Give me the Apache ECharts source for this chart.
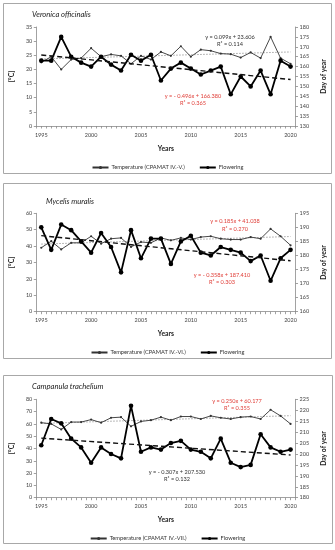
<!DOCTYPE html>
<html>
<head>
<meta charset="utf-8">
<script src="https://cdn.jsdelivr.net/npm/echarts@6/dist/echarts.min.js"></script>
<style>
html,body{margin:0;padding:0;background:#fff;}
#c{width:335px;height:550px;}
</style>
</head>
<body>
<div id="c"></div>
<script>
// ---------- DATA ----------
const years = [1995,1996,1997,1998,1999,2000,2001,2002,2003,2004,2005,2006,2007,2008,2009,2010,2011,2012,2013,2014,2015,2016,2017,2018,2019,2020];
const xTickLabels = [1995,2000,2005,2010,2015,2020];

const titles = ['Veronica officinalis','Mycelis muralis','Campanula trachelium'];
const tempNames = ['Temperature (CPAMAT IV.-V.)','Temperature (CPAMAT IV.-VI.)','Temperature (CPAMAT IV.-VII.)'];
const flowName = 'Flowering';

const tempVeronica = [22.5,24.5,20,23.5,24,27.5,24.5,25.3,24.8,22,24.8,23.5,26.2,24.8,28.2,24.5,27,26.6,25.6,25.4,24.2,26,24,31.5,24,22];
const flowVeronica = [163,163,175,165,162,160,165,161,158,166,163,166,153,159,162,159,156,158,160,146,155,150,158,146,163,160];
const tempMycelis = [39,43,38,42,42,46,41.5,44.5,45,39.5,42.5,42,45,43.5,45,44,45.5,46,44.5,44,44,45.5,44.5,50.5,46,40.5];
const flowMycelis = [190,182,191,189,185,181,188,183,174,189,179,186,186,177,185,187,181,180,183,182,181,178,180,171,179,182];
const tempCampanula = [61,60,55.5,61.5,61.5,63.5,61,65,65.5,58,62,63,65.5,63,66,66,64,66.5,65,64,65.5,66,64,71.5,66.5,60];
const flowCampanula = [204,216,214,207,203,196,203,200,198,222,201,203,202,205,206,202,201,198,207,196,194,195,209,203,201,202];

// trend coefficients [slope, intercept, R2], x = year index starting at 1
const trendTempVeronica = [0.099, 23.606, 0.114];
const trendFlowVeronica = [-0.496, 166.380, 0.365];
const trendTempMycelis = [0.185, 41.038, 0.270];
const trendFlowMycelis = [-0.358, 187.410, 0.303];
const trendTempCampanula = [0.250, 60.177, 0.355];
const trendFlowCampanula = [-0.307, 207.530, 0.132];

// axis ranges [min, max, interval]
const leftAxes = [[0,35,5],[0,60,10],[0,80,10]];
const rightAxes = [[130,180,5],[160,195,5],[180,225,5]];

// ---------- BUILD ----------
const temps = [tempVeronica, tempMycelis, tempCampanula];
const flows = [flowVeronica, flowMycelis, flowCampanula];
const tTrends = [trendTempVeronica, trendTempMycelis, trendTempCampanula];
const fTrends = [trendFlowVeronica, trendFlowMycelis, trendFlowCampanula];

const FONT = 'Lato, "Open Sans", sans-serif';
const RED = '#e0403a';
const layout = [
  {top:27, h:99, box:[3,3,328,170], title:[32,15], xGap:[6,19], legendTop:159.5,
   eqT:[230,37,'#333'], eqF:[193,96,RED]},
  {top:213.3, h:98.4, box:[3,183,328,175], title:[46,201.5], xGap:[5.5,19], legendTop:344.5,
   eqT:[235,221.5,RED], eqF:[222,275,RED]},
  {top:399.3, h:98.4, box:[3,375,329,168], title:[32,387], xGap:[5.5,18.3], legendTop:530.5,
   eqT:[237,401,RED], eqF:[177,472,'#333']}
];

const grid=[], xAxis=[], yAxis=[], series=[], legend=[], graphic=[];
function fmtEq(c){
  const s = c[0] < 0 ? '- ' + Math.abs(c[0]).toFixed(3) : c[0].toFixed(3);
  return 'y = ' + s + 'x + ' + c[1].toFixed(3);
}
function trendData(c){
  const a = years[0], b = years[years.length-1];
  return [[a, c[0]*1 + c[1]], [b, c[0]*years.length + c[1]]];
}
layout.forEach((L,i)=>{
  grid.push({left:35, width:262, top:L.top, height:L.h, containLabel:false});
  xAxis.push({
    gridIndex:i, type:'value', min:1994.5, max:2020.5, interval:0.5,
    axisLine:{show:true, onZero:false, lineStyle:{color:'#8a8a8a', width:0.8}},
    axisTick:{show:true, length:2.5, lineStyle:{color:'#8a8a8a', width:0.8}},
    axisLabel:{fontSize:5.5, color:'#444', fontFamily:FONT, margin:L.xGap[0],
      formatter:v=> xTickLabels.indexOf(v)>=0 ? String(v) : ''},
    splitLine:{show:false},
    name:'Years', nameLocation:'middle', nameGap:L.xGap[1],
    nameTextStyle:{fontSize:6.8, fontWeight:'bold', color:'#222', fontFamily:FONT}
  });
  const la = leftAxes[i], ra = rightAxes[i];
  yAxis.push({
    gridIndex:i, type:'value', position:'left', min:la[0], max:la[1], interval:la[2],
    axisLine:{show:true, lineStyle:{color:'#8a8a8a', width:0.8}},
    axisTick:{show:true, length:2.5, lineStyle:{color:'#8a8a8a', width:0.8}},
    axisLabel:{fontSize:5.5, color:'#444', fontFamily:FONT, margin:4},
    splitLine:{show:false},
    name:'[°C]', nameLocation:'middle', nameGap:17, nameRotate:90,
    nameTextStyle:{fontSize:6.8, fontWeight:'bold', color:'#222', fontFamily:FONT}
  });
  yAxis.push({
    gridIndex:i, type:'value', position:'right', min:ra[0], max:ra[1], interval:ra[2],
    axisLine:{show:true, lineStyle:{color:'#8a8a8a', width:0.8}},
    axisTick:{show:true, length:2.5, lineStyle:{color:'#8a8a8a', width:0.8}},
    axisLabel:{fontSize:5.5, color:'#444', fontFamily:FONT, margin:4},
    splitLine:{show:false},
    name:'Day of year', nameLocation:'middle', nameGap:20, nameRotate:90,
    nameTextStyle:{fontSize:6.8, fontWeight:'bold', color:'#222', fontFamily:FONT}
  });
  series.push({
    name:tempNames[i], type:'line', xAxisIndex:i, yAxisIndex:2*i,
    data:years.map((y,k)=>[y,temps[i][k]]),
    symbol:'circle', symbolSize:2.2, showSymbol:true,
    lineStyle:{color:'#333', width:0.9}, itemStyle:{color:'#333'}, z:3
  });
  series.push({
    name:flowName, type:'line', xAxisIndex:i, yAxisIndex:2*i+1,
    data:years.map((y,k)=>[y,flows[i][k]]),
    symbol:'circle', symbolSize:4.6, showSymbol:true,
    lineStyle:{color:'#000', width:1.8}, itemStyle:{color:'#000'}, z:4
  });
  series.push({
    name:'trendT'+i, type:'line', xAxisIndex:i, yAxisIndex:2*i,
    data:trendData(tTrends[i]), symbol:'none',
    lineStyle:{color:'#999', width:0.9, type:[1.5,1.5]}, z:2, silent:true
  });
  series.push({
    name:'trendF'+i, type:'line', xAxisIndex:i, yAxisIndex:2*i+1,
    data:trendData(fTrends[i]), symbol:'none',
    lineStyle:{color:'#111', width:1.4, type:[5,3]}, z:5, silent:true
  });
  legend.push({
    top:L.legendTop, left:'center', itemWidth:16, itemHeight:4, itemGap:14,
    data:[tempNames[i], flowName], selectedMode:false,
    textStyle:{fontSize:5.7, color:'#333', fontFamily:FONT, padding:[0,0,0,-2]}
  });
  graphic.push({type:'rect', shape:{x:L.box[0]+0.5,y:L.box[1]+0.5,width:L.box[2],height:L.box[3]},
    style:{fill:'none', stroke:'#a8a8a8', lineWidth:1}, silent:true});
  graphic.push({type:'text', x:L.title[0], y:L.title[1],
    style:{text:titles[i], fontSize:7.6, fontStyle:'italic', fill:'#222', fontFamily:FONT, textVerticalAlign:'middle'}});
  const tc = tTrends[i], fc = fTrends[i];
  [[tc,L.eqT],[fc,L.eqF]].forEach(([c,p])=>{
    graphic.push({type:'text', x:p[0], y:p[1],
      style:{text:fmtEq(c), fontSize:5.6, fill:p[2], fontFamily:FONT, textAlign:'center', textVerticalAlign:'middle'}});
    graphic.push({type:'text', x:p[0], y:p[1]+7.5,
      style:{text:'R² = ' + c[2].toFixed(3), fontSize:5.6, fill:p[2], fontFamily:FONT, textAlign:'center', textVerticalAlign:'middle'}});
  });
});

const chart = echarts.init(document.getElementById('c'), null, {renderer:'canvas'});
chart.setOption({
  animation:false, backgroundColor:'#fff',
  grid, xAxis, yAxis, series, legend, graphic
});
</script>
</body>
</html>
